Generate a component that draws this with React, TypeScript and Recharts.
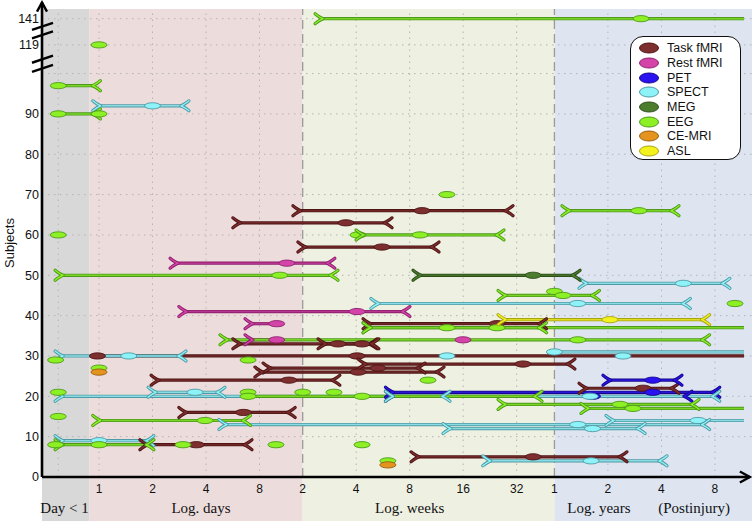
import React from 'react';
import {
  ScatterChart,
  Scatter,
  XAxis,
  YAxis,
  ReferenceArea,
  ReferenceLine,
  ReferenceDot,
  Legend,
} from 'recharts';

type End = number | 'open' | null;
// [subjects, start (days post-injury), median (days), end (days, or 'open' = continues past the axis)]
type Row = [number, number | null, number | null, End];

const taskFmri: Row[] = [
  [66, 13.5, 65.7, 195],
  [63, 6.2, 24.5, 40.7],
  [57, 14.4, 39.1, 74.8],
  [38, 33.5, 173.5, 301],
  [33, 6.2, 22.1, 33.5],
  [33, 18.7, 30.2, 34.3],
  [30, null, 0.98, 'open'],
  [30, null, 28.3, null],
  [28, 31.4, 243, 435],
  [27, 9.17, 37.1, 62.4],
  [26, 8.26, 28.7, 79.8],
  [24, 2.15, 11.7, 20.7],
  [22, 550, 1152, 1675],
  [16, 3.08, 6.5, 11.6],
  [8, 1.86, 3.53, 6.63],
  [5, 62.4, 277, 854],
];

const restFmri: Row[] = [
  [53, 2.75, 11.4, 19.4],
  [41, 3.08, 28.3, 51.3],
  [38, 7.26, 10.0, null],
  [34, 7.26, 10.0, null],
  [34, null, 111.7, null],
];

const pet: Row[] = [
  [24, 750, 1305, 1741],
  [21, 44.8, 1305, 2840],
  [20, 44.8, 598, 1980],
];

const spect: Row[] = [
  [92, 1.01, 2.0, 2.93],
  [48, 550, 1940, 3240],
  [43, 37.1, 494, 1940],
  [31, null, 365, 'open'],
  [30, 0.62, 1.47, 2.82],
  [30, null, 90.8, null],
  [30, null, 888, null],
  [21, 2.07, 3.47, 4.67],
  [20, 0.62, null, 86.2],
  [20, 44.8, 580, 2840],
  [14, 780, 2347, 'open'],
  [13, 5.18, 494, 2490],
  [12, 94.4, 598, 1080],
  [9, 0.62, 1.0, 1.86],
  [4, 158, 587, 1434],
];

const meg: Row[] = [[50, 64, 277, 465]];

const eeg: Row[] = [
  [141, 18, 1121, 'open'],
  [119, null, 1.0, null],
  [97, null, 0.59, 0.93],
  [90, null, 0.59, 0.93],
  [90, null, 1.0, null],
  [70, null, 90.8, null],
  [66, 441, 1090, 1675],
  [60, null, 0.59, null],
  [60, null, 28.7, null],
  [60, 30.6, 64, 173.5],
  [50, 0.62, 10.4, 20.2],
  [46, null, 365, null],
  [45, 192.6, 408, 598],
  [43, null, 3790, null],
  [37, 33.5, 90.8, 301],
  [37, 33.5, 173.5, 'open'],
  [34, 5.25, 494, 2490],
  [29, null, 0.57, null],
  [29, null, 6.9, null],
  [27, null, 1.0, null],
  [24, null, 71, null],
  [21, null, 0.59, null],
  [21, null, 6.9, null],
  [21, null, 14, null],
  [21, null, 21, null],
  [20, null, 6.9, 284],
  [20, null, 30.2, null],
  [18, 192.6, 854, 2171],
  [17, 564, 1011, 'open'],
  [15, null, 0.59, null],
  [14, 1.01, 3.95, 6.5],
  [8, 0.62, 1.0, 1.86],
  [8, null, 0.57, null],
  [8, null, 2.97, null],
  [8, null, 9.9, null],
  [8, null, 30.2, null],
  [4, null, 42.2, null],
];

const ceMri: Row[] = [
  [26, null, 1.0, null],
  [3, null, 42.2, null],
];

const asl: Row[] = [[39, 192.6, 750, 2490]];

// axis ticks / labels
const xTickDays = [1, 2, 4, 8, 14, 28, 56, 112, 224, 365.25, 730.5, 1461, 2922];
const xTickLabels = ['1', '2', '4', '8', '2', '4', '8', '16', '32', '1', '2', '4', '8'];
const periodLabels = ['Day < 1', 'Log. days', 'Log. weeks', 'Log. years', '(Postinjury)'];
const periodLabelDays = [0.64, 3.75, 56, 650, 2230];
const periodEdgesDays = [0.88, 14, 365.25];
const periodFills = ['#d8d8d8', '#eddcdc', '#eef0e1', '#dee5f1'];
const yTickSubjects = [0, 10, 20, 30, 40, 50, 60, 70, 80, 90, 119, 141];
const yGridSubjects = [10, 20, 30, 40, 50, 60, 70, 80, 90, 100, 119, 141];
const xGridDays = [0.59, 1, 2, 4, 8, 28, 56, 112, 224, 730.5, 1461, 2922];
const xDashedDays = [14, 365.25];

type Mod = { name: string; rows: Row[]; fill: string; edge: string; line: string };
const modalities: Mod[] = [
  { name: 'Task fMRI', rows: taskFmri, fill: '#7d2e2e', edge: '#4e1414', line: '#702727' },
  { name: 'Rest fMRI', rows: restFmri, fill: '#d444a8', edge: '#8e1f6e', line: '#b8358f' },
  { name: 'PET', rows: pet, fill: '#2b12f0', edge: '#14088c', line: '#2a14d8' },
  { name: 'SPECT', rows: spect, fill: '#8ef3f8', edge: '#4f9aa4', line: '#8adde4' },
  { name: 'MEG', rows: meg, fill: '#4c7c2e', edge: '#2c4f18', line: '#45712a' },
  { name: 'EEG', rows: eeg, fill: '#8cf024', edge: '#4d9a1a', line: '#7ad426' },
  { name: 'CE-MRI', rows: ceMri, fill: '#e3931e', edge: '#9a5e0c', line: '#d08a20' },
  { name: 'ASL', rows: asl, fill: '#f4f21e', edge: '#a8a410', line: '#e0dc20' },
];

// log2(days) scale; broken subject axis above 100
const lx = (d: number) => Math.log2(d);
const X0 = -57 / 53.5;
const X1 = X0 + 710 / 53.5;
const OPEN_X = X1 - 0.15;
const Y_TOP = 116;
const PERIOD_LABEL_Y = -7.7;
const yBreak = (s: number) =>
  s <= 100 ? s : s <= 119 ? 100 + ((s - 100) * 7.1) / 19 : 107.1 + ((s - 119) * 6.5) / 22;
const axisBreaks = [101.3, 103.55, 109.6, 111.7];

type Pt = { x: number; y: number; kind: string };
const toPoints = (r: Row): Pt[] => {
  const [s, a, m, b] = r;
  const y = yBreak(s);
  const pts: Pt[] = [];
  if (a != null) pts.push({ x: lx(a), y, kind: 'start' });
  if (m != null) pts.push({ x: lx(m), y, kind: 'med' });
  if (b === 'open') pts.push({ x: OPEN_X, y, kind: 'open' });
  else if (b != null) pts.push({ x: lx(b), y, kind: 'end' });
  return pts;
};

const lineRenderer = (m: Mod) => (props: any) => {
  const pts = (props && props.points) || [];
  if (pts.length < 2) return <g />;
  const d = pts.map((p: any, i: number) => `${i ? 'L' : 'M'}${p.x},${p.y}`).join(' ');
  return (
    <g>
      <path d={d} fill="none" stroke={m.edge} strokeWidth={3.2} />
      <path d={d} fill="none" stroke={m.line} strokeWidth={1.5} />
    </g>
  );
};

const emptyShape = () => <g />;

const markerShape = (m: Mod) => (p: any) => {
  const { cx, cy, payload } = p;
  if (cx == null || cy == null) return <g />;
  const k = payload && payload.kind;
  if (k === 'med')
    return <ellipse cx={cx} cy={cy} rx={8} ry={3.1} fill={m.fill} stroke={m.edge} strokeWidth={0.9} />;
  if (k === 'start' || k === 'end') {
    const s = k === 'start' ? -1 : 1;
    const d = `M${cx + s * 7},${cy - 5} Q${cx + s * 2},${cy - 1} ${cx - s},${cy} Q${cx + s * 2},${cy + 1} ${cx + s * 7},${cy + 5}`;
    return (
      <g>
        <path d={d} fill="none" stroke={m.edge} strokeWidth={3.2} strokeLinecap="round" strokeLinejoin="round" />
        <path d={d} fill="none" stroke={m.fill} strokeWidth={1.4} strokeLinecap="round" strokeLinejoin="round" />
      </g>
    );
  }
  return <g />;
};

const LegendBox = () => (
  <div
    style={{
      boxSizing: 'border-box',
      width: 111,
      height: 124,
      border: '1.3px solid #111',
      borderRadius: 13,
      background: '#fff',
      padding: '4px 0 0 7px',
      fontFamily: '"Liberation Sans", Arial, sans-serif',
      fontSize: 12.5,
      color: '#111',
    }}
  >
    {modalities.map((m) => (
      <div key={m.name} style={{ display: 'flex', alignItems: 'center', height: 14.7 }}>
        <svg width={22} height={12} style={{ display: 'block' }}>
          <ellipse cx={11} cy={6} rx={9.5} ry={5} fill={m.fill} stroke={m.edge} strokeWidth={1} />
        </svg>
        <span style={{ marginLeft: 7, whiteSpace: 'nowrap' }}>{m.name}</span>
      </div>
    ))}
  </div>
);

const ArrowUp = (p: any) => (
  <path d={`M${p.cx - 5},${p.cy + 9} L${p.cx},${p.cy} L${p.cx + 5},${p.cy + 9}`} fill="none" stroke="#000" strokeWidth={2.4} />
);
const ArrowRight = (p: any) => (
  <path d={`M${p.cx - 10},${p.cy - 5.5} L${p.cx},${p.cy} L${p.cx - 10},${p.cy + 5.5}`} fill="none" stroke="#000" strokeWidth={2.4} />
);
const periodLabelShape = (text: string) => (p: any) => (
  <text
    x={p.cx}
    y={p.cy}
    textAnchor="middle"
    dominantBaseline="central"
    fill="#111"
    fontSize={15}
    fontFamily='"Liberation Serif", "Times New Roman", serif'
  >
    {text}
  </text>
);

export default function App() {
  const bandEdges = [X0, ...periodEdgesDays.map(lx), X1];
  const sansFont = '"Liberation Sans", Arial, sans-serif';
  return (
    <div style={{ position: 'absolute', left: 0, top: 0 }}>
      <ScatterChart width={753} height={521} margin={{ top: 9, right: 1, bottom: 0, left: 0 }}>
        {periodFills.map((f, i) => (
          <ReferenceArea
            key={'band' + i}
            x1={bandEdges[i]}
            x2={bandEdges[i + 1]}
            y1={-11}
            y2={Y_TOP}
            fill={f}
            fillOpacity={1}
            stroke="none"
            ifOverflow="visible"
          />
        ))}
        {yGridSubjects.map((s) => (
          <ReferenceLine key={'hg' + s} y={yBreak(s)} stroke="#b4b4b4" strokeWidth={1} strokeDasharray="1.5 4.5" />
        ))}
        {xGridDays.map((d) => (
          <ReferenceLine key={'vg' + d} x={lx(d)} stroke="#b4b4b4" strokeWidth={1} strokeDasharray="1.5 4.5" />
        ))}
        {xDashedDays.map((d) => (
          <ReferenceLine key={'vd' + d} x={lx(d)} stroke="#9a9a9a" strokeWidth={1.3} strokeDasharray="9 5" />
        ))}
        <XAxis
          type="number"
          dataKey="x"
          domain={[X0, X1]}
          allowDataOverflow
          ticks={xTickDays.map(lx)}
          interval={0}
          tickFormatter={(_v: number, i: number) => xTickLabels[i]}
          axisLine={false}
          tickLine={false}
          tickSize={0}
          tickMargin={7}
          height={44}
          tick={{ fill: '#111', fontSize: 12, fontFamily: sansFont }}
        />
        <YAxis
          type="number"
          dataKey="y"
          domain={[0, Y_TOP]}
          allowDataOverflow
          ticks={yTickSubjects.map(yBreak)}
          interval={0}
          tickFormatter={(_v: number, i: number) => String(yTickSubjects[i])}
          axisLine={false}
          tickLine={false}
          tickSize={0}
          tickMargin={3}
          width={42}
          tick={{ fill: '#111', fontSize: 12.5, fontFamily: sansFont }}
          label={{
            value: 'Subjects',
            angle: -90,
            position: 'insideLeft',
            offset: 9,
            style: { textAnchor: 'middle', fill: '#111', fontSize: 13, fontFamily: sansFont },
          }}
        />
        {modalities.map((m) =>
          m.rows.map((r, i) => {
            const pts = toPoints(r);
            if (pts.length < 2) return null;
            return (
              <Scatter
                key={m.name + '-line-' + i}
                data={pts}
                line={lineRenderer(m)}
                lineType="joint"
                shape={emptyShape}
                isAnimationActive={false}
                legendType="none"
              />
            );
          })
        )}
        {modalities.map((m) => (
          <Scatter
            key={m.name + '-marks'}
            name={m.name}
            data={m.rows.flatMap(toPoints).filter((p) => p.kind !== 'open')}
            shape={markerShape(m)}
            isAnimationActive={false}
          />
        ))}
        <ReferenceLine
          segment={[{ x: X0, y: 0 }, { x: X1 - 0.04, y: 0 }]}
          stroke="#000"
          strokeWidth={2.6}
          ifOverflow="visible"
        />
        <ReferenceLine
          segment={[{ x: X0, y: 0 }, { x: X0, y: 117.6 }]}
          stroke="#000"
          strokeWidth={2.6}
          ifOverflow="visible"
        />
        <ReferenceDot x={X0} y={117.6} ifOverflow="visible" shape={ArrowUp} />
        <ReferenceDot x={X1 - 0.04} y={0} ifOverflow="visible" shape={ArrowRight} />
        {periodLabels.map((t, i) => (
          <ReferenceDot
            key={'pl' + i}
            x={lx(periodLabelDays[i])}
            y={PERIOD_LABEL_Y}
            ifOverflow="visible"
            shape={periodLabelShape(t)}
          />
        ))}
        {axisBreaks.map((c) => (
          <ReferenceLine
            key={'brk' + c}
            segment={[{ x: X0 - 10 / 53.5, y: c - 0.87 }, { x: X0 + 11 / 53.5, y: c + 0.87 }]}
            stroke="#000"
            strokeWidth={2.4}
            ifOverflow="visible"
          />
        ))}
        <Legend
          layout="vertical"
          align="center"
          verticalAlign="middle"
          content={() => <LegendBox />}
          wrapperStyle={{ left: 630, top: 36, width: 111, height: 124 }}
        />
      </ScatterChart>
    </div>
  );
}
